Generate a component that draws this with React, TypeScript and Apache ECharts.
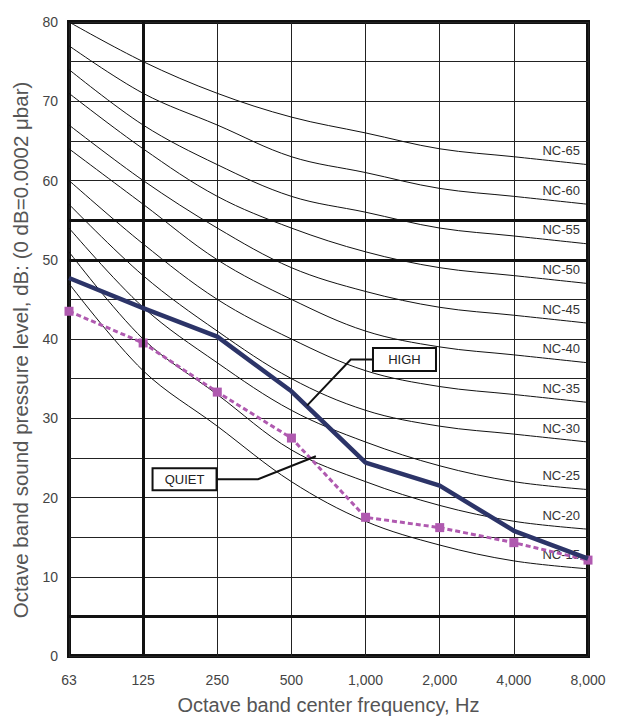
import React, { useEffect, useRef } from "react";
import * as echarts from "echarts";

const categories = ["63", "125", "250", "500", "1,000", "2,000", "4,000", "8,000"];
const ncNames = ["NC-65", "NC-60", "NC-55", "NC-50", "NC-45", "NC-40", "NC-35", "NC-30", "NC-25", "NC-20", "NC-15"];
const nc65 = [80, 75, 71, 68, 66, 64, 63, 62];
const nc60 = [77, 71, 67, 63, 61, 59, 58, 57];
const nc55 = [74, 67, 62, 58, 56, 54, 53, 52];
const nc50 = [71, 64, 58, 54, 51, 49, 48, 47];
const nc45 = [67, 60, 54, 49, 46, 44, 43, 42];
const nc40 = [64, 57, 50, 45, 41, 39, 38, 37];
const nc35 = [60, 52, 45, 40, 36, 34, 33, 32];
const nc30 = [57, 48, 41, 35, 31, 29, 28, 27];
const nc25 = [54, 44, 37, 31, 27, 24, 22, 21];
const nc20 = [51, 40, 33, 26, 22, 19, 17, 16];
const nc15 = [47, 36, 29, 22, 17, 14, 12, 11];
const ncCurves = [nc65, nc60, nc55, nc50, nc45, nc40, nc35, nc30, nc25, nc20, nc15];
const high = [47.7, 43.9, 40.3, 33.4, 24.4, 21.5, 15.8, 12.3];
const quiet = [43.5, 39.5, 33.3, 27.5, 17.5, 16.2, 14.3, 12.1];
const thickY = [5, 50, 55];
const thickX = ["125"];

// annotation anchors in data coordinates [category index (fractional), dB]
const highBox = [4.1, 37.4];
const highPath = [[4.1, 37.4], [3.8, 37.4], [3.21, 31.6]];
const quietBox = [1.99, 22.3];
const quietPath = [[1.99, 22.3], [2.55, 22.3], [3.33, 25.2]];

const FONT = "Liberation Sans, Arial, sans-serif";

export default function App() {
  const ref = useRef<HTMLDivElement>(null);
  useEffect(() => {
    if (!ref.current) return;
    const chart = echarts.init(ref.current, null, { renderer: "svg" });
    const ncSeries = ncCurves.map((d, i) => ({
      type: "line",
      name: ncNames[i],
      data: d.map((v, j) =>
        j === d.length - 1
          ? {
              value: v,
              label: {
                show: true,
                formatter: ncNames[i],
                position: "top",
                align: "right",
                distance: 4,
                offset: [-8, -3],
                fontSize: 13,
                fontFamily: FONT,
                color: "#333",
              },
            }
          : v
      ),
      smooth: 0.35,
      symbol: "circle",
      symbolSize: 1,
      showSymbol: true,
      itemStyle: { color: "rgba(0,0,0,0)" },
      lineStyle: { color: "#111", width: 1 },
      z: 2,
      silent: true,
    }));
    chart.setOption({
      animation: false,
      grid: {
        left: 69,
        right: 35,
        top: 22,
        bottom: 62,
        show: true,
        borderWidth: 4,
        borderColor: "#111",
        backgroundColor: "transparent",
      },
      xAxis: {
        type: "category",
        data: categories,
        boundaryGap: false,
        axisLine: { show: false },
        axisTick: { show: false },
        axisLabel: { margin: 17, fontSize: 14, color: "#444", fontFamily: FONT },
        splitLine: { show: true, lineStyle: { color: "#222", width: 1 } },
        name: "Octave band center frequency, Hz",
        nameLocation: "middle",
        nameGap: 39,
        nameTextStyle: { fontSize: 20, color: "#555", fontFamily: FONT },
      },
      yAxis: {
        type: "value",
        min: 0,
        max: 80,
        interval: 5,
        axisLine: { show: false },
        axisTick: { show: false },
        axisLabel: {
          margin: 11,
          fontSize: 14,
          color: "#444",
          fontFamily: FONT,
          formatter: (v: number) => (v % 10 === 0 ? String(v) : ""),
        },
        splitLine: { show: true, lineStyle: { color: "#222", width: 1 } },
        name: "Octave band sound pressure level, dB: (0 dB=0.0002 μbar)",
        nameLocation: "middle",
        nameGap: 38,
        nameTextStyle: { fontSize: 20.5, color: "#555", fontFamily: FONT, padding: [0, 22, 0, 0] },
      },
      series: [
        {
          type: "line",
          data: [],
          markLine: {
            silent: true,
            symbol: "none",
            label: { show: false },
            lineStyle: { color: "#111", width: 3, type: "solid" },
            data: [
              ...thickY.map((y) => ({ yAxis: y })),
              ...thickX.map((x) => ({ xAxis: x })),
            ],
          },
          z: 1,
        },
        ...ncSeries,
        {
          type: "line",
          name: "QUIET",
          data: quiet,
          symbol: "rect",
          symbolSize: 9,
          itemStyle: { color: "#b05ab0" },
          lineStyle: { color: "#b05ab0", width: 3, type: [5, 3] },
          z: 4,
        },
        {
          type: "line",
          name: "HIGH",
          data: high,
          symbol: "none",
          lineStyle: { color: "#2c3468", width: 4.5 },
          z: 5,
        },
      ],
    });

    const px = (p: number[]) => {
      const i0 = Math.floor(p[0]);
      const i1 = Math.min(i0 + 1, categories.length - 1);
      const f = p[0] - i0;
      const a = chart.convertToPixel({ gridIndex: 0 }, [i0, p[1]]) as number[];
      const b = chart.convertToPixel({ gridIndex: 0 }, [i1, p[1]]) as number[];
      return [a[0] + (b[0] - a[0]) * f, a[1]];
    };
    const hb = px(highBox);
    const qb = px(quietBox);
    const box = (x: number, y: number, w: number, h: number, text: string) => ({
      type: "group",
      z: 20,
      children: [
        {
          type: "rect",
          shape: { x, y: y - h / 2, width: w, height: h },
          style: { fill: "#fff", stroke: "#111", lineWidth: 2 },
        },
        {
          type: "text",
          x: x + w / 2,
          y,
          style: {
            text,
            fill: "#222",
            font: `13px ${FONT}`,
            textAlign: "center",
            textVerticalAlign: "middle",
          },
        },
      ],
    });
    chart.setOption({
      graphic: [
        {
          type: "polyline",
          z: 19,
          shape: { points: highPath.map(px) },
          style: { stroke: "#111", lineWidth: 2, fill: null },
        },
        {
          type: "polyline",
          z: 19,
          shape: { points: quietPath.map(px) },
          style: { stroke: "#111", lineWidth: 2, fill: null },
        },
        box(hb[0], hb[1], 63, 23, "HIGH"),
        box(qb[0] - 64, qb[1], 64, 22, "QUIET"),
      ],
    });
    return () => chart.dispose();
  }, []);
  return (
    <div
      ref={ref}
      style={{ position: "fixed", left: 0, top: 0, width: 623, height: 720, background: "#fff" }}
    />
  );
}
